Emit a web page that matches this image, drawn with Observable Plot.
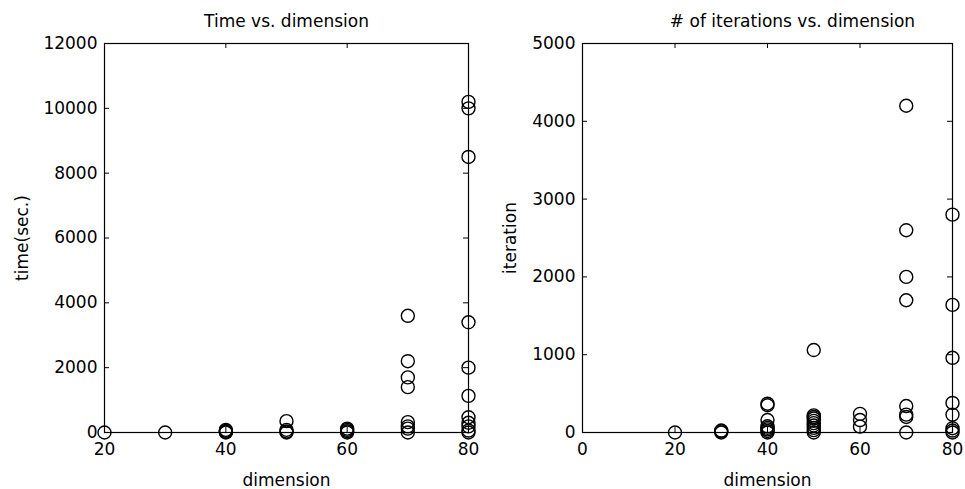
<!DOCTYPE html>
<html>
<head>
<meta charset="utf-8">
<script src="https://cdn.jsdelivr.net/npm/d3@7"></script>
<script src="https://cdn.jsdelivr.net/npm/@observablehq/plot@0.6"></script>
<style>
  html, body { margin: 0; padding: 0; background: white; }
  #wrap { position: relative; width: 965px; height: 489px; background: white; }
  #left, #right { position: absolute; top: 0; }
  #left { left: 0; }
  #right { left: 480px; }
</style>
</head>
<body>
<div id="wrap"><div id="left"></div><div id="right"></div></div>
<script>
// ---- Left panel: Time vs. dimension ----
const timeTitle = "Time vs. dimension";
const timeYLabel = "time(sec.)";
const xLabel = "dimension";
const timeDims = [20, 30, 40, 40, 40, 40, 50, 50, 50, 50, 60, 60, 60, 60,
  70, 70, 70, 70, 70, 70, 70, 70,
  80, 80, 80, 80, 80, 80, 80, 80, 80, 80, 80];
const timeVals = [0, 0, 0, 20, 50, 80, 350, 80, 30, 0, 120, 80, 40, 0,
  3600, 2200, 1700, 1400, 320, 190, 120, 0,
  10200, 10000, 8500, 3400, 2000, 1130, 470, 300, 190, 60, 0];
const timeXTicks = [20, 40, 60, 80];
const timeYTicks = [0, 2000, 4000, 6000, 8000, 10000, 12000];

// ---- Right panel: # of iterations vs. dimension ----
const iterTitle = "# of iterations vs. dimension";
const iterYLabel = "iteration";
const iterDims = [20, 30, 30, 30,
  40, 40, 40, 40, 40, 40, 40, 40,
  50, 50, 50, 50, 50, 50, 50, 50, 50, 50,
  60, 60, 60,
  70, 70, 70, 70, 70, 70, 70, 70,
  80, 80, 80, 80, 80, 80, 80, 80];
const iterVals = [0, 0, 15, 25,
  370, 350, 160, 80, 60, 40, 20, 0,
  1060, 220, 200, 180, 150, 120, 90, 60, 30, 0,
  240, 160, 75,
  4200, 2600, 2000, 1700, 340, 230, 200, 0,
  2800, 1640, 960, 380, 230, 55, 25, 0];
const iterXTicks = [0, 20, 40, 60, 80];
const iterYTicks = [0, 1000, 2000, 3000, 4000, 5000];

const FS = 17;
const font = {fontFamily: "'DejaVu Sans', sans-serif", fontSize: FS + "px", background: "white", color: "black", overflow: "visible"};

function panel({width, marginLeft, marginRight, xDomain, yDomain, xTicks, yTicks, dims, vals, title, titleDx, yLabel, yLabelDx}) {
  const height = 489, marginTop = 43, marginBottom = 57;
  const innerW = width - marginLeft - marginRight;
  const innerH = height - marginTop - marginBottom;
  const tl = 5;
  const data = dims.map((d, i) => ({x: d, y: vals[i]}));
  return Plot.plot({
    width, height, marginLeft, marginRight, marginTop, marginBottom,
    style: font,
    x: {domain: xDomain},
    y: {domain: yDomain},
    marks: [
      Plot.frame({stroke: "black", strokeWidth: 1.2}),
      Plot.tickY(yTicks, {y: d => d, insetRight: innerW - tl, stroke: "black"}),
      Plot.tickY(yTicks, {y: d => d, insetLeft: innerW - tl, stroke: "black"}),
      Plot.tickX(xTicks, {x: d => d, insetTop: innerH - tl, stroke: "black"}),
      Plot.tickX(xTicks, {x: d => d, insetBottom: innerH - tl, stroke: "black"}),
      Plot.axisX({ticks: xTicks, tickSize: 0, tickPadding: 10, label: null, fontSize: FS, tickFormat: d => String(d)}),
      Plot.axisY({ticks: yTicks, tickSize: 0, tickPadding: 7, label: null, fontSize: FS, tickFormat: d => String(d)}),
      Plot.dot(data, {x: "x", y: "y", r: 6.5, stroke: "black", strokeWidth: 1.4, fill: "none"}),
      Plot.text([title], {text: d => d, frameAnchor: "top", lineAnchor: "middle", textAnchor: "middle", dy: -22, dx: titleDx, fontSize: FS}),
      Plot.text([xLabel], {text: d => d, frameAnchor: "bottom", lineAnchor: "middle", textAnchor: "middle", dy: 48, fontSize: FS}),
      Plot.text([yLabel], {text: d => d, frameAnchor: "left", lineAnchor: "middle", textAnchor: "middle", dx: yLabelDx, rotate: -90, fontSize: FS})
    ]
  });
}

document.getElementById("left").append(panel({
  width: 480, marginLeft: 104, marginRight: 12,
  xDomain: [20, 80], yDomain: [0, 12000],
  xTicks: timeXTicks, yTicks: timeYTicks,
  dims: timeDims, vals: timeVals,
  title: timeTitle, titleDx: 0, yLabel: timeYLabel, yLabelDx: -82
}));

document.getElementById("right").append(panel({
  width: 485, marginLeft: 102, marginRight: 13,
  xDomain: [0, 80], yDomain: [0, 5000],
  xTicks: iterXTicks, yTicks: iterYTicks,
  dims: iterDims, vals: iterVals,
  title: iterTitle, titleDx: 25, yLabel: iterYLabel, yLabelDx: -72
}));
</script>
</body>
</html>
